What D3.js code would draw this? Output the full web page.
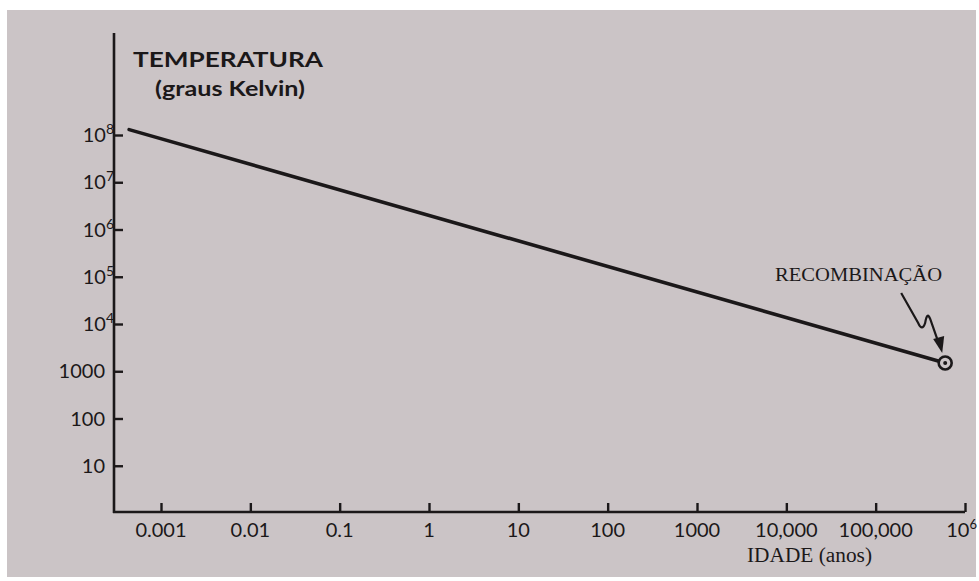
<!DOCTYPE html>
<html>
<head>
<meta charset="utf-8">
<script src="https://cdn.jsdelivr.net/npm/d3@7"></script>
<style>
  html, body { margin: 0; padding: 0; background: #fff; }
  svg { display: block; }
  .tick-label { font-family: Lato, "Open Sans", sans-serif; font-size: 20px; fill: #1b1819; }
  .serif { font-family: "Liberation Serif", "DejaVu Serif", serif; fill: #1b1819; }
</style>
</head>
<body>
<svg id="chart" width="979" height="581"></svg>
<script>
// axis ticks (log scales), labels as printed
const xTickValues = [1e-3, 1e-2, 1e-1, 1, 10, 100, 1000, 1e4, 1e5, 1e6];
const xTickLabels = ["0.001", "0.01", "0.1", "1", "10", "100", "1000", "10,000", "100,000", "10^6"];
const yTickValues = [10, 100, 1000, 1e4, 1e5, 1e6, 1e7, 1e8];
const yTickLabels = ["10", "100", "1000", "10^4", "10^5", "10^6", "10^7", "10^8"];

// the cooling line: age (years) vs temperature (K)
const ages = [4.4e-4, 6e5];
const temps = [1.3e8, 1500];

const ink = "#1b1819";
const paper = "#cbc4c6";
const svg = d3.select("#chart");

// photographed page
svg.append("rect")
  .attr("x", 7).attr("y", 10)
  .attr("width", 969).attr("height", 567)
  .attr("fill", paper);

const x = d3.scaleLog().domain([1e-3, 1e6]).range([161, 965]);
const y = d3.scaleLog().domain([1, 1e8]).range([513, 135]);

const axisX = 114, axisY = 512, axisTop = 33;

// label with optional exponent "10^n"
function powerLabel(sel, str, expSize, expDy) {
  const parts = str.split("^");
  sel.append("tspan").text(parts[0]);
  if (parts[1]) {
    sel.append("tspan")
      .attr("font-size", expSize)
      .attr("dy", expDy)
      .text(parts[1]);
  }
}

// y axis
const gy = svg.append("g").attr("transform", `translate(${axisX},0)`);
gy.call(d3.axisRight(y).tickValues(yTickValues).tickSize(9).tickFormat(""));
gy.select(".domain").remove();
gy.selectAll(".tick line").attr("stroke", ink).attr("stroke-width", 2.4);
svg.append("line")
  .attr("x1", axisX).attr("x2", axisX)
  .attr("y1", axisTop).attr("y2", axisY + 1)
  .attr("stroke", ink).attr("stroke-width", 2.6);

yTickValues.forEach((v, i) => {
  const lbl = yTickLabels[i];
  const hasExp = lbl.includes("^");
  const t = svg.append("text")
    .attr("class", "tick-label")
    .attr("x", hasExp ? 114 : 105)
    .attr("y", y(v) + 7)
    .attr("font-size", 21)
    .attr("text-anchor", "end");
  powerLabel(t, lbl, 14, -8);
});

// x axis
const gx = svg.append("g").attr("transform", `translate(0,${axisY})`);
gx.call(d3.axisTop(x).tickValues(xTickValues).tickSize(9).tickFormat(""));
gx.select(".domain").remove();
gx.selectAll(".tick line").attr("stroke", ink).attr("stroke-width", 2.4);
svg.append("line")
  .attr("x1", axisX - 1).attr("x2", x(1e6))
  .attr("y1", axisY).attr("y2", axisY)
  .attr("stroke", ink).attr("stroke-width", 2.6);

xTickValues.forEach((v, i) => {
  const last = i === xTickValues.length - 1;
  const t = svg.append("text")
    .attr("class", "tick-label")
    .attr("x", last ? 977 : x(v))
    .attr("y", 537)
    .attr("font-size", 21)
    .attr("text-anchor", last ? "end" : "middle");
  powerLabel(t, xTickLabels[i], 13, -8);
});

// axis titles
svg.append("text")
  .attr("class", "tick-label")
  .attr("x", 133).attr("y", 67)
  .attr("font-size", 24).attr("font-weight", "bold")
  .attr("textLength", 190).attr("lengthAdjust", "spacingAndGlyphs")
  .text("TEMPERATURA");
svg.append("text")
  .attr("class", "tick-label")
  .attr("x", 155).attr("y", 96)
  .attr("font-size", 19).attr("font-weight", "bold")
  .attr("textLength", 150).attr("lengthAdjust", "spacingAndGlyphs")
  .text("(graus Kelvin)");
svg.append("text")
  .attr("class", "serif")
  .attr("x", 747).attr("y", 562)
  .attr("font-size", 20)
  .attr("textLength", 125).attr("lengthAdjust", "spacingAndGlyphs")
  .text("IDADE (anos)");

// data line
const pts = ages.map((a, i) => [x(a), y(temps[i])]);
svg.append("path")
  .attr("d", d3.line()(pts))
  .attr("fill", "none")
  .attr("stroke", ink)
  .attr("stroke-width", 3.6)
  .attr("stroke-linecap", "round");

// recombination marker
const [ex, ey] = pts[pts.length - 1];
svg.append("circle")
  .attr("cx", ex).attr("cy", ey).attr("r", 6.5)
  .attr("fill", paper).attr("stroke", ink).attr("stroke-width", 2.6);
svg.append("circle")
  .attr("cx", ex).attr("cy", ey).attr("r", 2)
  .attr("fill", ink);

// squiggly pointer
const p = d3.path();
p.moveTo(ex - 44, ey - 70);
p.lineTo(ex - 27, ey - 40);
p.quadraticCurveTo(ex - 23, ey - 31, ex - 20, ey - 40);
p.quadraticCurveTo(ex - 18, ey - 52, ex - 15, ey - 44);
p.lineTo(ex - 8, ey - 24);
svg.append("path")
  .attr("d", p.toString())
  .attr("fill", "none").attr("stroke", ink).attr("stroke-width", 2.2);
// arrow head
const tip = [ex - 3, ey - 10];
svg.append("path")
  .attr("d", d3.line()([[tip[0] - 9, tip[1] - 14], [tip[0] + 2, tip[1] - 17], tip]) + "Z")
  .attr("fill", ink);

svg.append("text")
  .attr("class", "serif")
  .attr("x", 775).attr("y", 281)
  .attr("font-size", 18)
  .attr("textLength", 167).attr("lengthAdjust", "spacingAndGlyphs")
  .text("RECOMBINAÇÃO");
</script>
</body>
</html>
